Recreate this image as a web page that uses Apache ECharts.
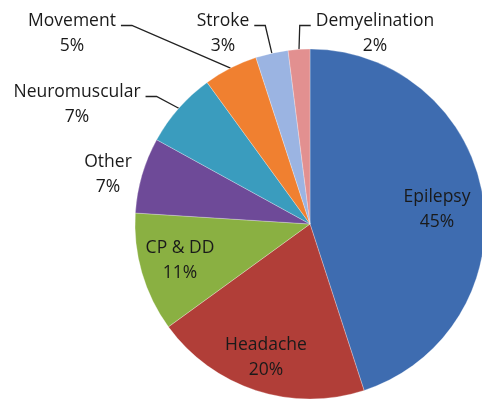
<!DOCTYPE html>
<html>
<head>
<meta charset="utf-8">
<script src="https://cdn.jsdelivr.net/npm/echarts@6/dist/echarts.min.js"></script>
<style>
html,body{margin:0;padding:0;background:#fff;}
#chart{width:482px;height:401px;}
</style>
</head>
<body>
<div id="chart"></div>
<script>
// ---- data ----
const categories = ['Epilepsy', 'Headache', 'CP & DD', 'Other', 'Neuromuscular', 'Movement', 'Stroke', 'Demyelination'];
const values = [45, 20, 11, 7, 7, 5, 3, 2];
const colors = ['#3e6cb0', '#b13e38', '#8ab042', '#6e4a98', '#3a9cbe', '#f08030', '#9bb4e2', '#e29090'];
// label block centres (text positions only)
const labelPos = [[437, 210], [266, 358], [180, 261], [108, 175], [77, 105], [72, 34], [223, 34], [375, 34]];
// leader line side: 1 = line leaves label on the right, -1 = on the left, 0 = no line
const lineSide = [0, 0, 0, 0, 1, 1, 1, -1];

const chart = echarts.init(document.getElementById('chart'), null, {renderer: 'canvas'});
const data = categories.map((name, i) => ({
  name: name,
  value: values[i],
  itemStyle: {color: colors[i]},
  labelLine: {show: lineSide[i] !== 0}
}));

chart.setOption({
  animation: false,
  backgroundColor: '#fff',
  series: [{
    type: 'pie',
    center: [310, 224],
    radius: 175,
    startAngle: 90,
    clockwise: true,
    avoidLabelOverlap: false,
    data: data,
    itemStyle: {borderColor: 'rgba(255,255,255,0.45)', borderWidth: 0.6},
    label: {
      show: true,
      position: 'outside',
      formatter: '{b}\n{c}%',
      color: '#1a1a1a',
      fontFamily: 'Open Sans',
      fontSize: 17.5,
      lineHeight: 25,
      align: 'center'
    },
    labelLine: {
      show: true,
      smooth: false,
      length: 10,
      length2: 10,
      lineStyle: {color: '#222', width: 1.3}
    },
    emphasis: {disabled: true},
    labelLayout: function (params) {
      const i = params.dataIndex;
      const x = labelPos[i][0];
      const y = labelPos[i][1];
      const out = {x: x, y: y, align: 'center', verticalAlign: 'middle'};
      const side = lineSide[i];
      if (side !== 0 && params.labelLinePoints) {
        const w = params.labelRect.width;
        const ly = y - 12.5 + 4;
        const edge = x + side * w / 2;
        const anchor = params.labelLinePoints[0];
        out.labelLinePoints = [anchor, [edge + side * 16, ly], [edge + side * 5, ly]];
      }
      return out;
    }
  }]
});
</script>
</body>
</html>
